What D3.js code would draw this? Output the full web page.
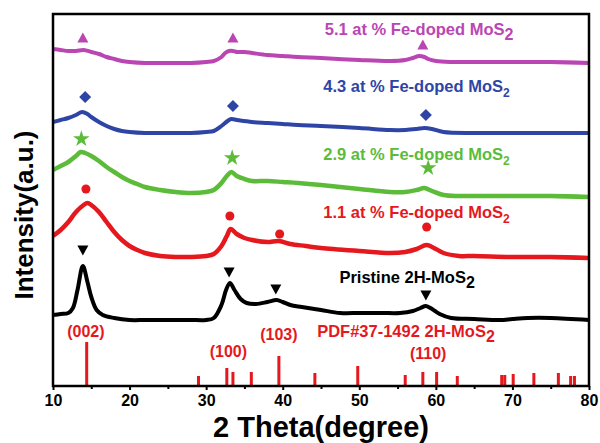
<!DOCTYPE html>
<html>
<head>
<meta charset="utf-8">
<script src="https://cdn.jsdelivr.net/npm/d3@7"></script>
<style>
  body { margin: 0; background: #fff; }
  text { font-family: "Liberation Sans", Arial, sans-serif; font-weight: bold; }
</style>
</head>
<body>
<div id="my_dataviz"></div>
<script>
var margin = { top: 14, right: 11, bottom: 57, left: 53 },
    width = 600 - margin.left - margin.right,
    height = 443 - margin.top - margin.bottom;

// 2theta (degree) and intensity (a.u.)
const theta5 = [10, 11, 12, 13, 14, 15, 16, 17, 18, 19, 20, 22, 24, 26, 28, 30, 31, 32, 32.5, 33, 33.5, 34, 35, 36, 38, 40, 42, 45, 50, 54, 56, 57, 57.8, 58.5, 59, 60, 62, 65, 70, 75, 80];
const int5 = [337, 336, 335, 335, 336, 334, 332, 329, 327, 325, 324, 323, 323, 323, 323, 324, 325, 329, 333, 335, 335, 334, 334, 333, 331, 330, 329, 328, 326, 325, 326, 328, 330, 329, 327, 325, 324, 324, 324, 324, 323];

const theta4 = [10, 11, 12, 13, 13.8, 14.5, 15, 16, 17, 18, 19, 20, 22, 24, 26, 28, 30, 31, 32, 32.8, 33.3, 34, 35, 36, 38, 40, 42, 45, 50, 54, 56, 57.5, 58.5, 59.5, 61, 65, 70, 75, 80];
const int4 = [264, 266, 268, 271, 274, 272, 269, 264, 260, 257, 255, 254, 253, 253, 253, 253, 254, 255, 260, 265, 267, 266, 265, 264, 263, 262, 261, 260, 258, 256, 256, 257, 258, 257, 254, 253, 253, 253, 253];

const theta29 = [10, 11, 12, 13, 13.6, 14.2, 15, 16, 17, 18, 19, 20, 21, 22, 24, 26, 28, 30, 31, 32, 32.7, 33.3, 34, 35, 36, 38, 40, 42, 45, 50, 54, 56, 57.5, 58.5, 59.5, 61, 63, 65, 70, 75, 80];
const int29 = [216, 220, 224, 230, 234, 233, 230, 225, 219, 214, 209, 205, 202, 199, 196, 194, 193, 194, 196, 203, 210, 214, 210, 207, 205, 205, 204, 203, 201, 197, 194, 194, 196, 198, 195, 191, 190, 190, 190, 190, 189];

const theta11 = [10, 11, 12, 13, 14, 14.5, 15, 16, 17, 18, 19, 20, 21, 22, 24, 26, 28, 30, 31, 32, 32.7, 33.2, 34, 35, 36, 38, 39.5, 41, 43, 45, 50, 54, 56, 57.5, 58.8, 60, 61, 63, 65, 70, 75, 80];
const int11 = [150, 156, 164, 174, 181, 183, 181, 174, 164, 154, 146, 140, 136, 133, 130, 129, 129, 130, 132, 140, 150, 157, 152, 148, 146, 144, 145, 142, 140, 138, 135, 133, 134, 137, 141, 137, 133, 130, 130, 129, 129, 128];

const thetaP = [10, 11, 12, 12.6, 13.2, 13.9, 14.5, 15, 15.7, 16.5, 18, 20, 22, 24, 26, 28, 30, 31, 32, 32.6, 33.1, 33.7, 34.5, 35.3, 36.5, 38, 39.2, 40, 41, 42.5, 45, 47.5, 50, 53, 55.3, 57, 58, 58.7, 59.5, 60.5, 62, 65, 68.4, 70, 72, 75, 80];
const intP = [71, 72, 73, 78, 96, 120, 104, 89, 76, 71, 68, 66, 66, 66, 66, 66, 66, 68, 81, 96, 103, 96, 87, 83, 82, 84, 86, 84, 81, 79, 76, 73, 73, 73, 73, 75, 78, 80, 77, 72, 68, 67, 66, 67, 68, 68, 66];

// PDF#37-1492 reference lines
const refTheta = [14.4, 29.0, 32.7, 33.5, 35.9, 39.5, 44.2, 49.8, 56.0, 58.3, 60.1, 62.8, 68.6, 69.0, 70.1, 72.8, 76.0, 77.6, 78.1];
const refInt = [44, 10, 18, 14, 14, 30, 13, 20, 11, 14, 14, 10, 11, 11, 12, 13, 13, 10, 10];

// peak markers
const mark5 = [[13.9, 348], [33.5, 348], [58.3, 341]];
const mark4 = [[14.2, 289], [33.5, 280], [58.7, 271]];
const mark29 = [[13.7, 247], [33.4, 228], [59.0, 218]];
const mark11 = [[14.3, 197], [33.1, 170], [39.6, 152], [58.8, 159]];
const markP = [[13.9, 136], [33.0, 114], [39.1, 97], [58.7, 91]];

const xTicks = [10, 20, 30, 40, 50, 60, 70, 80];
const xMinor = [15, 25, 35, 45, 55, 65, 75];

let svg = d3.select("#my_dataviz").append("svg")
    .attr("width", width + margin.left + margin.right)
    .attr("height", height + margin.top + margin.bottom)
    .append("g")
    .attr("transform", "translate(" + margin.left + "," + margin.top + ")")

let x = d3.scaleLinear().domain([10, 80]).range([0, width]);
let y = d3.scaleLinear().domain([0, 372]).range([height, 0]);

let line = d3.line()
    .x(d => x(d[0]))
    .y(d => y(d[1]))
    .curve(d3.curveCatmullRom.alpha(0.5));

let series = [
    { t: theta5, v: int5, color: "#b946b3", w: 4 },
    { t: theta4, v: int4, color: "#2f45a6", w: 4 },
    { t: theta29, v: int29, color: "#5cbc3a", w: 4.5 },
    { t: theta11, v: int11, color: "#e5181e", w: 4.5 },
    { t: thetaP, v: intP, color: "#000", w: 4 }
];

svg.selectAll(".curve")
    .data(series)
    .enter()
    .append("path")
    .attr("class", "curve")
    .attr("d", s => line(s.t.map((t, i) => [t, s.v[i]])))
    .attr("fill", "none")
    .attr("stroke", s => s.color)
    .attr("stroke-width", s => s.w)
    .attr("stroke-linejoin", "round")

// reference sticks
svg.selectAll(".ref")
    .data(refTheta)
    .enter()
    .append("rect")
    .attr("class", "ref")
    .attr("x", d => x(d) - 1.5)
    .attr("width", 3)
    .attr("y", (d, i) => y(refInt[i]))
    .attr("height", (d, i) => y(0) - y(refInt[i]))
    .attr("fill", "#e5181e")

// markers
function triangle(up, s) {
    return up ? `M0,${-s}L${s},${s * 0.8}L${-s},${s * 0.8}Z`
              : `M0,${s}L${s},${-s * 0.8}L${-s},${-s * 0.8}Z`;
}
let star = d3.symbol().type(d3.symbolStar).size(85)();
let diamond = "M0,-6L6,0L0,6L-6,0Z";

function drawMarks(data, path, color) {
    svg.append("g")
        .selectAll("path")
        .data(data)
        .enter()
        .append("path")
        .attr("transform", d => "translate(" + x(d[0]) + "," + y(d[1]) + ")")
        .attr("d", path)
        .attr("fill", color)
}
drawMarks(mark5, triangle(true, 5.5), "#b946b3");
drawMarks(mark4, diamond, "#2f45a6");
drawMarks(mark29, star, "#5cbc3a");
drawMarks(mark11, d3.symbol().type(d3.symbolCircle).size(64)(), "#e5181e");
drawMarks(markP, triangle(false, 5.5), "#000");

// series labels
function label(txt, deg, val, color, sub) {
    let t = svg.append("text")
        .attr("x", x(deg))
        .attr("y", y(val))
        .attr("fill", color)
        .style("font-size", "16.5px")
        .text(txt)
    t.append("tspan")
        .attr("dy", 5)
        .style("font-size", sub + "px")
        .text("2")
    return t;
}
label("5.1 at % Fe-doped MoS", 45.5, 351, "#b946b3", 16);
label("4.3 at % Fe-doped MoS", 45.3, 294, "#2f45a6", 12);
label("2.9 at % Fe-doped MoS", 45.3, 226, "#5cbc3a", 12);
label("1.1 at % Fe-doped MoS", 45.3, 168, "#e5181e", 12);
label("Pristine 2H-MoS", 47.4, 103, "#000", 16);
label("PDF#37-1492 2H-MoS", 44.5, 49, "#e5181e", 16);

let hkl = [["(002)", 14.3, 49], ["(100)", 32.9, 29], ["(103)", 39.5, 46], ["(110)", 59.0, 27]];
svg.selectAll(".hkl")
    .data(hkl)
    .enter()
    .append("text")
    .attr("class", "hkl")
    .attr("x", d => x(d[1]))
    .attr("y", d => y(d[2]))
    .attr("text-anchor", "middle")
    .attr("fill", "#e5181e")
    .style("font-size", "16px")
    .text(d => d[0])

// axes
svg.append("rect")
    .attr("width", width)
    .attr("height", height)
    .attr("fill", "none")
    .attr("stroke", "#000")
    .attr("stroke-width", 2.5)

let xAxis = svg.append("g")
    .attr("transform", "translate(0," + height + ")")
    .call(d3.axisBottom(x).tickValues(xTicks).tickSize(4).tickPadding(5).tickFormat(d3.format("d")))
xAxis.select(".domain").remove();
xAxis.selectAll("line").attr("stroke-width", 2);
xAxis.selectAll("text").style("font-size", "16px").style("font-family", "Liberation Sans, Arial, sans-serif").attr("fill", "#000");

svg.append("g")
    .attr("transform", "translate(0," + height + ")")
    .call(d3.axisBottom(x).tickValues(xMinor).tickSize(3).tickFormat(""))
    .call(g => g.select(".domain").remove())
    .selectAll("line").attr("stroke-width", 2);

svg.append("text")
    .attr("x", width / 2)
    .attr("y", height + 51)
    .attr("text-anchor", "middle")
    .style("font-size", "29px")
    .text("2 Theta(degree)")

svg.append("text")
    .attr("transform", "translate(-20," + (215 - margin.top) + ") rotate(-90)")
    .attr("text-anchor", "middle")
    .style("font-size", "26px")
    .text("Intensity(a.u.)")
</script>
</body>
</html>
